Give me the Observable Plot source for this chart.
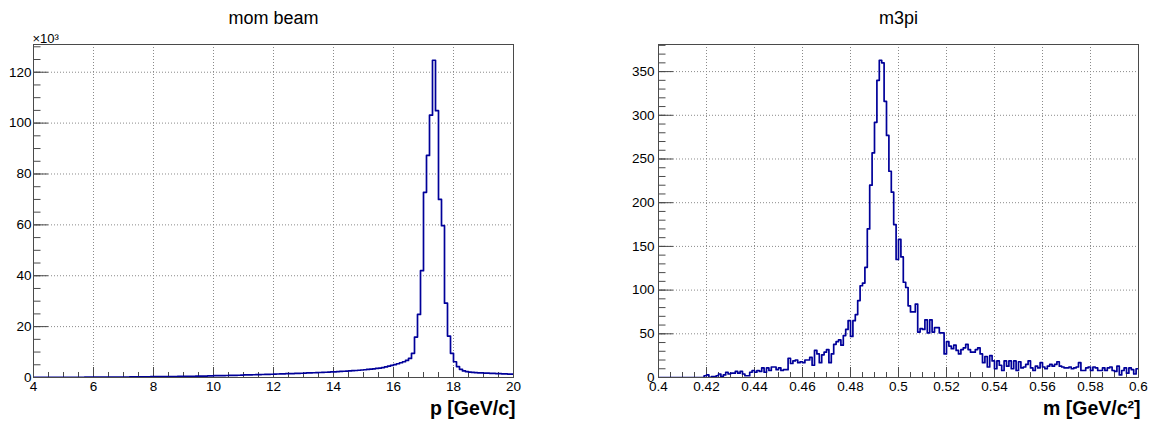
<!DOCTYPE html>
<html><head><meta charset="utf-8">
<script src="https://cdn.jsdelivr.net/npm/d3@7"></script>
<script src="https://cdn.jsdelivr.net/npm/@observablehq/plot@0.6"></script>
<style>
body{margin:0;background:#fff;}
#wrap{display:flex;width:1154px;height:423px;overflow:hidden;}
</style></head><body><div id="wrap"></div>
<script>
// ---- Panel 1: mom beam (counts in thousands, 160 bins of 0.1 GeV/c from 4 to 20)
const momTitle = "mom beam";
const momXLabel = "p [GeV/c]";
const momExponent = "×10³";
const momRange = [4, 20];
const momCounts = [
  0.03,0.03,0.04,0.04,0.05,0.05,0.05,0.06,0.06,0.07,
  0.07,0.08,0.08,0.09,0.09,0.10,0.10,0.11,0.11,0.12,
  0.12,0.13,0.13,0.14,0.15,0.15,0.16,0.17,0.17,0.18,
  0.19,0.20,0.21,0.22,0.23,0.26,0.28,0.29,0.30,0.31,
  0.32,0.33,0.34,0.35,0.36,0.37,0.38,0.40,0.41,0.42,
  0.45,0.47,0.49,0.50,0.52,0.54,0.56,0.58,0.60,0.62,
  0.70,0.72,0.74,0.77,0.79,0.81,0.84,0.86,0.89,0.92,
  1.00,1.03,1.05,1.08,1.11,1.14,1.17,1.20,1.23,1.27,
  1.35,1.38,1.42,1.45,1.49,1.52,1.56,1.60,1.64,1.68,
  1.74,1.78,1.83,1.87,1.92,1.97,2.02,2.07,2.12,2.18,
  2.25,2.31,2.38,2.45,2.52,2.60,2.68,2.76,2.85,2.95,
  3.05,3.16,3.28,3.41,3.55,3.72,3.92,4.15,4.45,4.80,
  5.1,5.4,5.8,6.2,6.7,7.5,9.5,15.9,24.8,42.0,
  72.8,87.3,103.1,124.7,104.9,70.0,59.7,29.2,16.3,9.5,
  6.2,4.3,3.2,2.6,2.3,2.1,2.0,1.9,1.85,1.8,
  1.75,1.7,1.65,1.6,1.55,1.5,1.45,1.4,1.35,1.3
];
const momYMax = 130.9;
const momXTicks = [4, 6, 8, 10, 12, 14, 16, 18, 20];
const momYTicks = [0, 20, 40, 60, 80, 100, 120];

// ---- Panel 2: m3pi (200 bins of 0.001 GeV/c^2 from 0.4 to 0.6)
const m3piTitle = "m3pi";
const m3piXLabel = "m [GeV/c²]";
const m3piRange = [0.4, 0.6];
const m3piCounts = [
  0,0,0,0,0,0,0,0,0,0,
  0,0,0,0,0,0,0,0,0,2,
  3,0,1,1,2,4,1,3,6,4,
  5,5,7,5,7,4,2,2,6,8,
  6,8,7,11,6,11,8,12,12,9,
  11,8,9,9,22,16,19,20,17,18,
  17,20,20,23,14,31,27,17,26,29,
  32,17,27,38,41,43,37,48,55,65,
  47,65,72,88,105,108,126,170,220,257,
  292,340,363,360,316,277,236,212,175,135,
  158,138,109,103,82,75,75,84,52,56,
  55,66,51,66,52,57,57,51,51,27,
  41,36,33,37,31,27,32,34,38,32,
  29,29,32,34,27,17,24,12,25,19,
  10,19,14,8,19,13,19,10,19,8,
  18,11,12,15,19,11,8,13,11,17,
  12,10,13,15,13,15,18,13,12,11,
  11,12,10,11,12,17,8,8,11,12,
  8,12,11,8,8,11,8,11,12,8,
  7,13,3,8,11,5,11,9,4,10
];
const m3piYMax = 381;
const m3piXTicks = [0.4, 0.42, 0.44, 0.46, 0.48, 0.5, 0.52, 0.54, 0.56, 0.58, 0.6];
const m3piYTicks = [0, 50, 100, 150, 200, 250, 300, 350];

function histPoints(range, counts) {
  const [lo, hi] = range;
  const w = (hi - lo) / counts.length;
  const pts = counts.map((c, i) => ({x: lo + i * w, y: c}));
  pts.push({x: hi, y: counts[counts.length - 1]});
  return pts;
}

function panel(o) {
  const W = 577, H = 423, mt = 44, mb = 46;
  const fw = W - o.marginLeft - o.marginRight, fh = H - mt - mb;
  const axisColor = "#4a4a4a";
  const gridStyle = {stroke: "#8a8a8a", strokeOpacity: 1, strokeWidth: 1, strokeDasharray: "1,2"};
  return Plot.plot({
    width: W, height: H,
    marginTop: mt, marginBottom: mb, marginLeft: o.marginLeft, marginRight: o.marginRight,
    x: {domain: o.range, label: null},
    y: {domain: [0, o.yMax], label: null},
    style: {fontFamily: "'Liberation Sans', Arial, Helvetica, sans-serif", background: "#fff", color: "#000", overflow: "visible"},
    marks: [
      Plot.gridX(o.xTicks.slice(1, -1), gridStyle),
      Plot.gridY(o.yTicks.slice(1), gridStyle),
      Plot.tickX(o.xMinor, {x: d => d, insetTop: fh - 5, stroke: axisColor}),
      Plot.tickX(o.xTicks, {x: d => d, insetTop: fh - 10, stroke: axisColor}),
      Plot.tickY(o.yMinor, {y: d => d, insetRight: fw - 7.5, stroke: axisColor}),
      Plot.tickY(o.yTicks, {y: d => d, insetRight: fw - 15, stroke: axisColor}),
      Plot.line(histPoints(o.range, o.counts), {x: "x", y: "y", curve: "step-after", stroke: "#000099", strokeWidth: 1.7, clip: true}),
      Plot.frame({stroke: axisColor}),
      Plot.axisX(o.xTicks, {tickSize: 0, tickPadding: 4, fontSize: 13.5, tickFormat: o.xFmt, label: null}),
      Plot.axisY(o.yTicks, {tickSize: 0, tickPadding: o.yPad, fontSize: 13.5, tickFormat: d => String(d), label: null}),
      Plot.text([o.title], {text: d => d, frameAnchor: "top", lineAnchor: "bottom", dy: -20.5, fontSize: 18}),
      Plot.text([o.xLabel], {text: d => d, frameAnchor: "bottom-right", textAnchor: "end", lineAnchor: "bottom", dy: 37, dx: 2, fontSize: 19.5, fontWeight: "bold"}),
      o.exponent ? Plot.text([o.exponent], {text: d => d, frameAnchor: "top-left", textAnchor: "start", lineAnchor: "bottom", dy: -1.5, dx: -1, fontSize: 13}) : null
    ]
  });
}

const fmtX = d => String(+d.toFixed(3));
const wrap = document.getElementById("wrap");
wrap.append(panel({
  title: momTitle, xLabel: momXLabel, exponent: momExponent,
  range: momRange, counts: momCounts, yMax: momYMax,
  xTicks: momXTicks, yTicks: momYTicks,
  xMinor: d3.range(4, 20.001, 0.5), yMinor: d3.range(0, momYMax, 5),
  xFmt: fmtX, marginLeft: 33, marginRight: 64, yPad: 2
}));
wrap.append(panel({
  title: m3piTitle, xLabel: m3piXLabel, exponent: null,
  range: m3piRange, counts: m3piCounts, yMax: m3piYMax,
  xTicks: m3piXTicks, yTicks: m3piYTicks,
  xMinor: d3.range(0, 41).map(k => 0.4 + k * 0.005), yMinor: d3.range(0, m3piYMax, 10),
  xFmt: fmtX, marginLeft: 81, marginRight: 16, yPad: 4
}));
</script>
</body></html>
